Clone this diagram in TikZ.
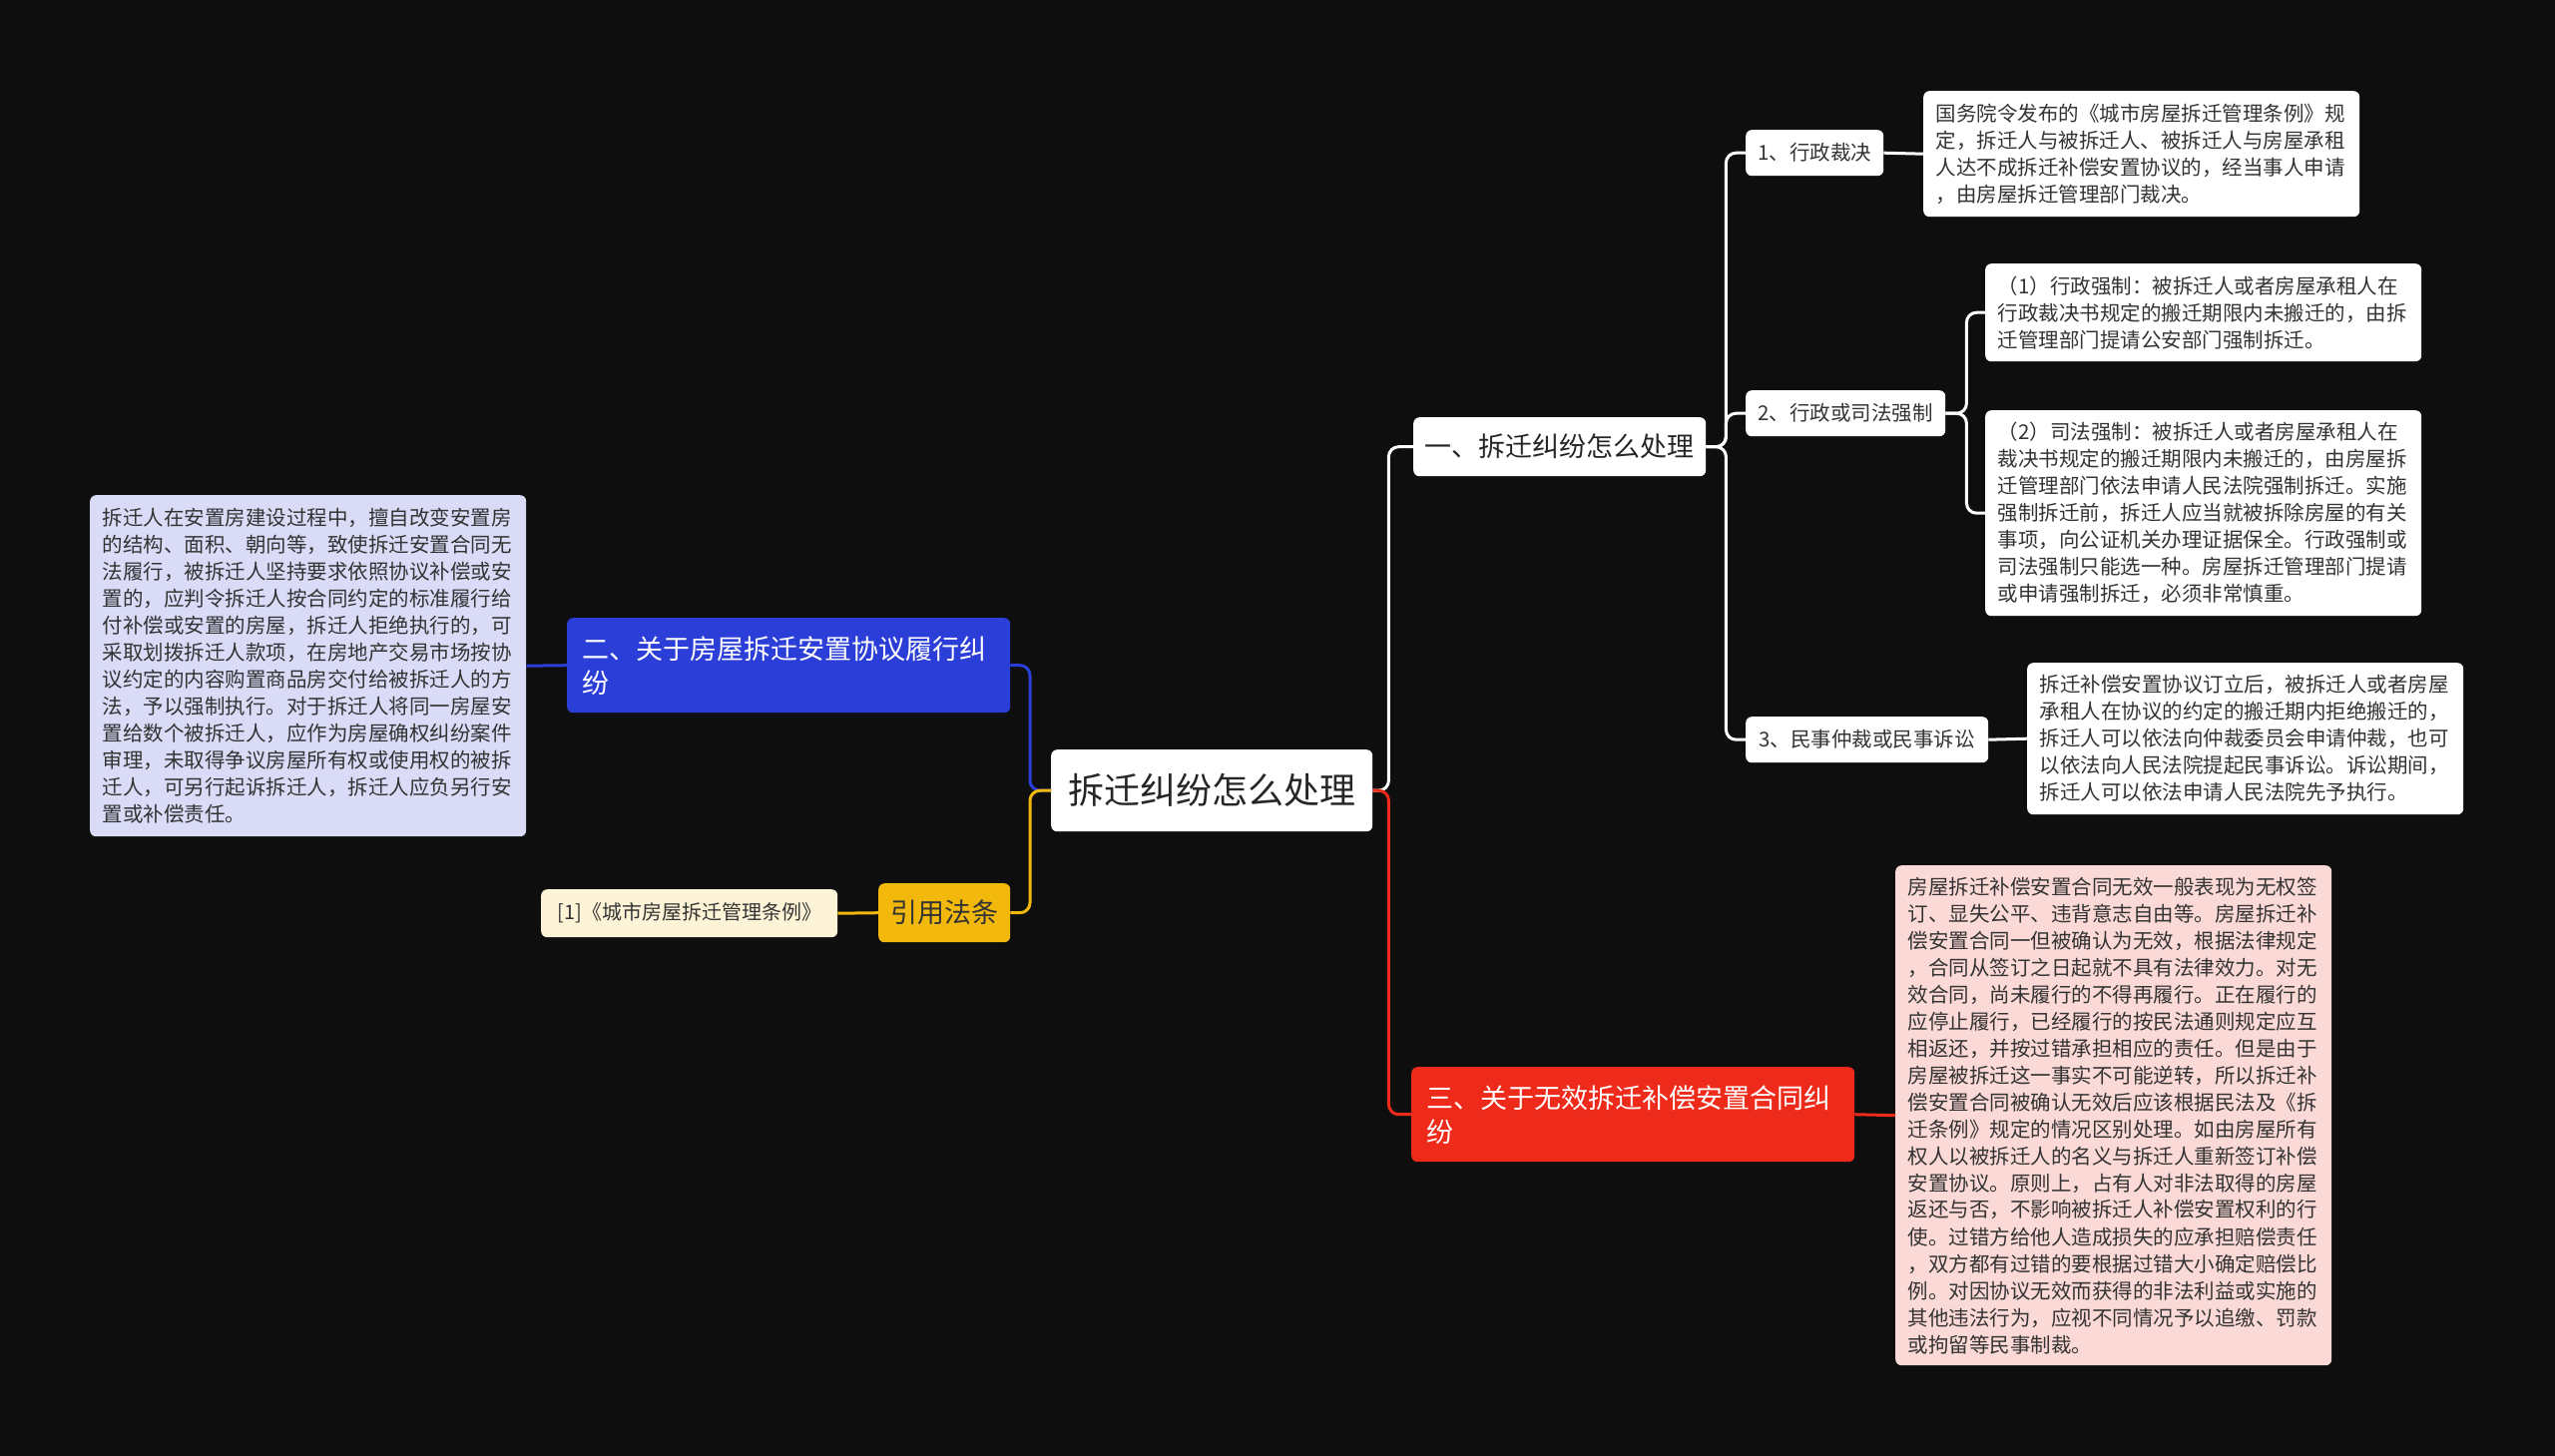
\documentclass[tikz,border=0pt]{standalone}
\usepackage{fontspec}
\setmainfont{Noto Sans CJK SC}
\usepackage{xcolor}
\usepackage{tikz}
\definecolor{bg}{HTML}{0E0E0E}
\definecolor{ink}{HTML}{333333}
\definecolor{bluebr}{HTML}{2B3FD8}
\definecolor{redbr}{HTML}{EE2A1A}
\definecolor{yellowbr}{HTML}{F2B90C}
\definecolor{bluenote}{HTML}{D9DBF7}
\definecolor{rednote}{HTML}{FBD9D6}
\definecolor{yellownote}{HTML}{FDF3D6}

\begin{document}
\begin{tikzpicture}[x=1pt,y=-1pt,
        box/.style={anchor=north west,rounded corners=6pt,inner sep=0pt,align=center,text=ink},
        topic/.style={box,font=\fontsize{27}{34}\selectfont},
        wide/.style={topic,align=left,text width=414pt,inner xsep=15pt,text=white},
        leaf/.style={box,fill=white,font=\fontsize{20.5}{27}\selectfont},
        note/.style={box,align=left,text width=412pt,inner xsep=12.5pt,font=\fontsize{20.5}{27}\selectfont},
        wline/.style={white,line width=3pt,rounded corners=10pt},
        rline/.style={wline,redbr},
        bline/.style={wline,bluebr},
        yline/.style={wline,yellowbr}]
        \fill[bg] (0,0) rectangle (2560,1459);
        \useasboundingbox (0,0) rectangle (2560,1459);
        \node[box,fill=white,minimum width=322pt,minimum height=82pt,font=\fontsize{36}{44}\selectfont,text=black!85] (root) at (1053,751) {拆迁纠纷怎么处理};
        \node[topic,fill=white,minimum width=293pt,minimum height=59pt,text=black!85] (b1) at (1416,418) {一、拆迁纠纷怎么处理};
        \node[wide,fill=bluebr,minimum height=95pt] (b2) at (568,619) {二、关于房屋拆迁安置协议履行纠\\纷};
        \node[wide,fill=redbr,minimum height=95pt] (b3) at (1414,1069) {三、关于无效拆迁补偿安置合同纠\\纷};
        \node[topic,fill=yellowbr,minimum width=132pt,minimum height=59pt] (law) at (880,885) {引用法条};
        \node[box,fill=yellownote,minimum width=297pt,minimum height=48pt,font=\fontsize{20}{26}\selectfont] (ref) at (542,891) {[1]《城市房屋拆迁管理条例》};
        \node[leaf,minimum width=138pt,minimum height=46pt] (s1) at (1749,130) {1、行政裁决};
        \node[leaf,minimum width=200pt,minimum height=46pt] (s2) at (1749,391) {2、行政或司法强制};
        \node[leaf,minimum width=243pt,minimum height=46pt] (s3) at (1749,718) {3、民事仲裁或民事诉讼};
        \node[note,fill=white,minimum height=126pt] (d1) at (1927,91) {国务院令发布的《城市房屋拆迁管理条例》规\\
定，拆迁人与被拆迁人、被拆迁人与房屋承租\\
人达不成拆迁补偿安置协议的，经当事人申请\\
，由房屋拆迁管理部门裁决。};
        \node[note,fill=white,minimum height=98pt] (d21) at (1989,264) {（1）行政强制：被拆迁人或者房屋承租人在\\
行政裁决书规定的搬迁期限内未搬迁的，由拆\\
迁管理部门提请公安部门强制拆迁。};
        \node[note,fill=white,minimum height=206pt] (d22) at (1989,411) {（2）司法强制：被拆迁人或者房屋承租人在\\
裁决书规定的搬迁期限内未搬迁的，由房屋拆\\
迁管理部门依法申请人民法院强制拆迁。实施\\
强制拆迁前，拆迁人应当就被拆除房屋的有关\\
事项，向公证机关办理证据保全。行政强制或\\
司法强制只能选一种。房屋拆迁管理部门提请\\
或申请强制拆迁，必须非常慎重。};
        \node[note,fill=white,minimum height=152pt] (d3) at (2031,664) {拆迁补偿安置协议订立后，被拆迁人或者房屋\\
承租人在协议的约定的搬迁期内拒绝搬迁的，\\
拆迁人可以依法向仲裁委员会申请仲裁，也可\\
以依法向人民法院提起民事诉讼。诉讼期间，\\
拆迁人可以依法申请人民法院先予执行。};
        \node[note,fill=rednote,minimum height=501pt] (rd) at (1899,867) {房屋拆迁补偿安置合同无效一般表现为无权签\\
订、显失公平、违背意志自由等。房屋拆迁补\\
偿安置合同一但被确认为无效，根据法律规定\\
，合同从签订之日起就不具有法律效力。对无\\
效合同，尚未履行的不得再履行。正在履行的\\
应停止履行，已经履行的按民法通则规定应互\\
相返还，并按过错承担相应的责任。但是由于\\
房屋被拆迁这一事实不可能逆转，所以拆迁补\\
偿安置合同被确认无效后应该根据民法及《拆\\
迁条例》规定的情况区别处理。如由房屋所有\\
权人以被拆迁人的名义与拆迁人重新签订补偿\\
安置协议。原则上，占有人对非法取得的房屋\\
返还与否，不影响被拆迁人补偿安置权利的行\\
使。过错方给他人造成损失的应承担赔偿责任\\
，双方都有过错的要根据过错大小确定赔偿比\\
例。对因协议无效而获得的非法利益或实施的\\
其他违法行为，应视不同情况予以追缴、罚款\\
或拘留等民事制裁。};
        \node[note,fill=bluenote,minimum height=342pt] (bd) at (90,496) {拆迁人在安置房建设过程中，擅自改变安置房\\
的结构、面积、朝向等，致使拆迁安置合同无\\
法履行，被拆迁人坚持要求依照协议补偿或安\\
置的，应判令拆迁人按合同约定的标准履行给\\
付补偿或安置的房屋，拆迁人拒绝执行的，可\\
采取划拨拆迁人款项，在房地产交易市场按协\\
议约定的内容购置商品房交付给被拆迁人的方\\
法，予以强制执行。对于拆迁人将同一房屋安\\
置给数个被拆迁人，应作为房屋确权纠纷案件\\
审理，未取得争议房屋所有权或使用权的被拆\\
迁人，可另行起诉拆迁人，拆迁人应负另行安\\
置或补偿责任。};
        \draw[wline] (root.east) -- ++(16,0) |- (b1.west);
        \draw[rline] (root.east) -- ++(16,0) |- (b3.west);
        \draw[bline] (root.west) -- ++(-21,0) |- (b2.east);
        \draw[yline] (root.west) -- ++(-21,0) |- (law.east);
        \draw[wline] (b1.east) -- ++(20,0) |- (s1.west);
        \draw[wline] (b1.east) -- ++(20,0) |- (s2.west);
        \draw[wline] (b1.east) -- ++(20,0) |- (s3.west);
        \draw[wline] (s2.east) -- ++(21,0) |- (d21.west);
        \draw[wline] (s2.east) -- ++(21,0) |- (d22.west);
        \draw[wline] (s1.east) -- (d1.west);
        \draw[wline] (s3.east) -- (d3.west);
        \draw[bline] (b2.west) -- (bd.east);
        \draw[yline] (law.west) -- (ref.east);
        \draw[rline] (b3.east) -- (rd.west);
\end{tikzpicture}
\end{document}
